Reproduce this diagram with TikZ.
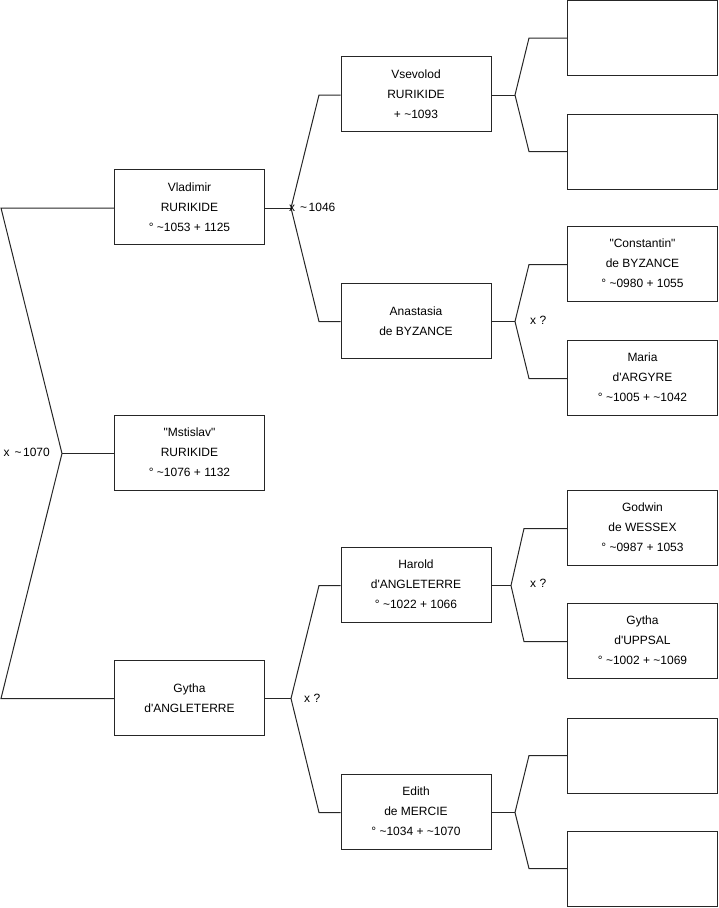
\documentclass[tikz,border=0pt]{standalone}
\usepackage{fontspec}
\setmainfont{Liberation Sans}
\newcommand{\xtil}{x\hspace{5pt}\textasciitilde\hspace{1.5pt}}
\begin{document}
\begin{tikzpicture}[x=1pt,y=-1pt,
  person/.style={draw=black!85, line width=1pt, minimum width=150pt, minimum height=75pt, inner sep=0pt, align=center, font=\fontsize{12}{20}\selectfont},
  link/.style={draw=black!85, line width=1pt},
  lab/.style={inner sep=0pt, font=\fontsize{12}{14}\selectfont}]
\useasboundingbox (0,0) rectangle (719,908);
% column 1
\node[person] (vlad) at (189.5,207) {Vladimir\\RURIKIDE\\° \textasciitilde1053 + 1125};
\node[person] (msti) at (189.5,452.5) {\textquotedbl Mstislav\textquotedbl\\RURIKIDE\\° \textasciitilde1076 + 1132};
\node[person] (gytha) at (189.5,698) {Gytha\\d\textquotesingle ANGLETERRE};
% column 2
\node[person] (vsev) at (416,94) {Vsevolod\\RURIKIDE\\+ \textasciitilde1093};
\node[person] (anas) at (416,321) {Anastasia\\de BYZANCE};
\node[person] (harold) at (416,584.5) {Harold\\d\textquotesingle ANGLETERRE\\° \textasciitilde1022 + 1066};
\node[person] (edith) at (416,811.5) {Edith\\de MERCIE\\° \textasciitilde1034 + \textasciitilde1070};
% column 3
\node[person] (r1) at (642.5,38) {};
\node[person] (r2) at (642.5,151.5) {};
\node[person] (const) at (642.5,263.5) {\textquotedbl Constantin\textquotedbl\\de BYZANCE\\° \textasciitilde0980 + 1055};
\node[person] (maria) at (642.5,377.5) {Maria\\d\textquotesingle ARGYRE\\° \textasciitilde1005 + \textasciitilde1042};
\node[person] (godwin) at (642.5,527.5) {Godwin\\de WESSEX\\° \textasciitilde0987 + 1053};
\node[person] (gythaU) at (642.5,640.5) {Gytha\\d\textquotesingle UPPSAL\\° \textasciitilde1002 + \textasciitilde1069};
\node[person] (r7) at (642.5,755.5) {};
\node[person] (r8) at (642.5,868.5) {};
% junction coordinates
\coordinate (j0) at (62,453.5);
\coordinate (a0) at (1,208);
\coordinate (b0) at (1,698.5);
\coordinate (j1) at (291,208);
\coordinate (a1) at (319,95);
\coordinate (b1) at (319,321.5);
\coordinate (j2) at (291,698.5);
\coordinate (a2) at (319,585.5);
\coordinate (b2) at (319,812.5);
\coordinate (j3) at (515,95);
\coordinate (a3) at (529,38);
\coordinate (b3) at (529,151.5);
\coordinate (j4) at (515,321.5);
\coordinate (a4) at (529,264.5);
\coordinate (b4) at (529,378.5);
\coordinate (j5) at (511,585.5);
\coordinate (a5) at (524,528.5);
\coordinate (b5) at (524,641.5);
\coordinate (j6) at (515,812.5);
\coordinate (a6) at (529,755.5);
\coordinate (b6) at (529,868.5);
% connectors
\draw[link] (vlad.west |- a0) -- (a0) -- (j0) -- (b0) -- (gytha.west |- b0);
\draw[link] (j0) -- (msti.west |- j0);
\draw[link] (vlad.east |- j1) -- (j1);
\draw[link] (vsev.west |- a1) -- (a1) -- (j1) -- (b1) -- (anas.west |- b1);
\draw[link] (gytha.east |- j2) -- (j2);
\draw[link] (harold.west |- a2) -- (a2) -- (j2) -- (b2) -- (edith.west |- b2);
\draw[link] (vsev.east |- j3) -- (j3);
\draw[link] (r1.west |- a3) -- (a3) -- (j3) -- (b3) -- (r2.west |- b3);
\draw[link] (anas.east |- j4) -- (j4);
\draw[link] (const.west |- a4) -- (a4) -- (j4) -- (b4) -- (maria.west |- b4);
\draw[link] (harold.east |- j5) -- (j5);
\draw[link] (godwin.west |- a5) -- (a5) -- (j5) -- (b5) -- (gythaU.west |- b5);
\draw[link] (edith.east |- j6) -- (j6);
\draw[link] (r7.west |- a6) -- (a6) -- (j6) -- (b6) -- (r8.west |- b6);
% labels
\node[lab, anchor=east] (l0) at (50,452) {\xtil 1070};
\node[lab, anchor=west] (l1) at (289,207.5) {\xtil 1046};
\node[lab, anchor=west] (l2) at (304,698) {x ?};
\node[lab, anchor=west] (l3) at (530,320) {x ?};
\node[lab, anchor=west] (l4) at (530,583) {x ?};
\end{tikzpicture}
\end{document}
